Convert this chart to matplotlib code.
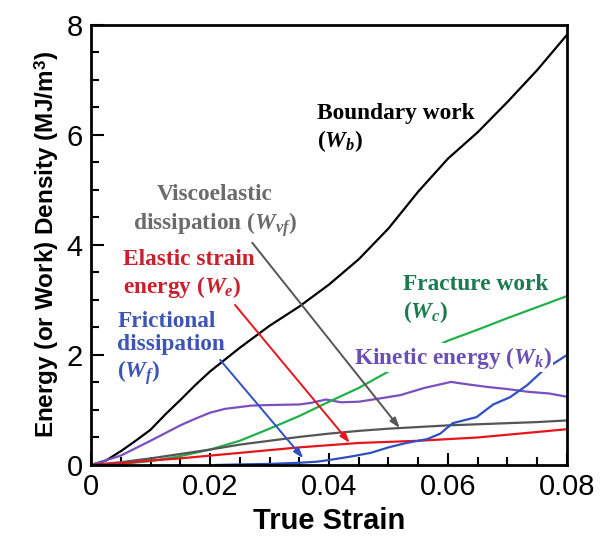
import matplotlib
matplotlib.use("Agg")
import matplotlib.pyplot as plt
from matplotlib.ticker import MultipleLocator, FuncFormatter

plt.rcParams["font.family"] = ["Liberation Sans", "DejaVu Sans"]
plt.rcParams["mathtext.fontset"] = "custom"
plt.rcParams["mathtext.it"] = "Liberation Serif:italic:bold"
plt.rcParams["mathtext.rm"] = "Liberation Serif:bold"
plt.rcParams["mathtext.sf"] = "Liberation Sans:bold"

# Boundary work W_b
strain_b = [0, 0.0025, 0.005, 0.0075, 0.01, 0.0125, 0.015, 0.0175, 0.02, 0.025,
            0.03, 0.035, 0.04, 0.045, 0.05, 0.055, 0.06, 0.065, 0.07, 0.075, 0.08]
work_b = [0, 0.08, 0.25, 0.44, 0.64, 0.92, 1.18, 1.45, 1.7, 2.13,
          2.53, 2.88, 3.28, 3.74, 4.3, 4.97, 5.57, 6.05, 6.6, 7.18, 7.82]

# Kinetic energy W_k
strain_k = [0, 0.005, 0.01, 0.015, 0.0175, 0.02, 0.0225, 0.027, 0.03, 0.035, 0.037,
            0.0395, 0.042, 0.045, 0.048, 0.052, 0.056, 0.0605, 0.063, 0.0665,
            0.07, 0.0735, 0.077, 0.08]
energy_k = [0, 0.17, 0.44, 0.72, 0.84, 0.95, 1.02, 1.08, 1.09, 1.1, 1.13,
            1.19, 1.14, 1.15, 1.2, 1.27, 1.4, 1.51, 1.47, 1.42,
            1.38, 1.33, 1.3, 1.24]

# Fracture work W_c, viscoelastic dissipation W_vf, elastic strain energy W_e
strain = [0, 0.005, 0.01, 0.015, 0.02, 0.025, 0.03, 0.035, 0.04, 0.045,
          0.05, 0.055, 0.06, 0.065, 0.07, 0.075, 0.08]
work_c = [0, 0.02, 0.07, 0.16, 0.28, 0.44, 0.66, 0.89, 1.15, 1.4,
          1.7, 2.0, 2.26, 2.46, 2.67, 2.87, 3.07]
diss_vf = [0, 0.05, 0.12, 0.2, 0.28, 0.37, 0.44, 0.51, 0.57, 0.62,
           0.66, 0.69, 0.72, 0.74, 0.76, 0.78, 0.81]
energy_e = [0, 0.03, 0.08, 0.12, 0.17, 0.22, 0.27, 0.32, 0.36, 0.4,
            0.42, 0.44, 0.47, 0.5, 0.55, 0.6, 0.65]

# Frictional dissipation W_f
strain_f = [0.021, 0.025, 0.03, 0.035, 0.038, 0.04, 0.0435, 0.047, 0.05, 0.053,
            0.0565, 0.0587, 0.0608, 0.0648, 0.0676, 0.0704, 0.0733, 0.076, 0.08]
diss_f = [0, 0.01, 0.02, 0.04, 0.06, 0.09, 0.15, 0.22, 0.32, 0.4,
          0.47, 0.57, 0.76, 0.87, 1.1, 1.23, 1.45, 1.72, 2.0]

fig = plt.figure(figsize=(6.04, 5.36), dpi=100)
ax = fig.add_axes([0.1507, 0.1325, 0.788, 0.821])

lw = 1.6
ax.plot(strain_b, work_b, color="black", lw=lw)
ax.plot(strain_k, energy_k, color="#7a4fc0", lw=lw)
ax.plot(strain, work_c, color="#22b04b", lw=lw)
ax.plot(strain, diss_vf, color="#555555", lw=lw)
ax.plot(strain, energy_e, color="#e8141c", lw=lw)
ax.plot(strain_f, diss_f, color="#3050c0", lw=lw)

ax.set_xlim(0, 0.08)
ax.set_ylim(0, 8)
ax.xaxis.set_major_locator(MultipleLocator(0.02))
ax.xaxis.set_minor_locator(MultipleLocator(0.005))
ax.yaxis.set_major_locator(MultipleLocator(2))
ax.yaxis.set_minor_locator(MultipleLocator(0.5))
ax.xaxis.set_major_formatter(FuncFormatter(lambda v, p: "0" if v == 0 else f"{v:.2f}"))
ax.tick_params(which="both", direction="in", top=False, right=False, width=1.5)
ax.tick_params(which="major", length=9, labelsize=21, pad=6)
ax.tick_params(which="minor", length=6)
for s in ax.spines.values():
    s.set_linewidth(2)

ax.set_xlabel("True Strain", fontsize=21, fontweight="bold", labelpad=4)
ax.set_ylabel(r"Energy (or Work) Density (MJ/m$^{\mathsf{3}}$)", fontsize=17.5,
              fontweight="bold", labelpad=4)

serif = "Liberation Serif"
fs = 16.8
ls = 1.22
ax.text(0.038, 6.58, "Boundary work\n($W_b$)", family=serif, weight="bold",
        fontsize=fs, color="black", ha="left", va="top", linespacing=ls)
ax.text(0.0208, 5.1, "Viscoelastic\ndissipation ($W_{vf}$)", family=serif, weight="bold",
        fontsize=fs, color="#6b6b6b", ha="center", va="top", linespacing=ls)
ax.text(0.0054, 3.93, "Elastic strain\nenergy ($W_e$)", family=serif, weight="bold",
        fontsize=fs, color="#c8202c", ha="left", va="top", linespacing=ls)
ax.text(0.0044, 2.8, "Frictional\ndissipation\n($W_f$)", family=serif, weight="bold",
        fontsize=fs, color="#3d55b5", ha="left", va="top", linespacing=1.15)
ax.text(0.0524, 3.47, "Fracture work\n($W_c$)", family=serif, weight="bold",
        fontsize=fs, color="#1b7a4e", ha="left", va="top", linespacing=ls)
ax.text(0.0442, 1.95, "Kinetic energy ($W_k$)", family=serif, weight="bold",
        fontsize=fs, color="#6a4fb5", ha="left", va="center",
        bbox=dict(facecolor="white", edgecolor="none", pad=1))

def pointer(start, end, color):
    ax.annotate("", xy=end, xytext=start,
                arrowprops=dict(arrowstyle="-|>,head_length=0.6,head_width=0.2",
                                color=color, lw=1.4, shrinkA=0, shrinkB=0))

pointer((0.0271, 4.04), (0.0519, 0.67), "#555555")
pointer((0.0242, 2.91), (0.0435, 0.40), "#e8141c")
pointer((0.0217, 1.91), (0.0357, 0.12), "#3050c0")

fig.savefig("out.png", dpi=100)
